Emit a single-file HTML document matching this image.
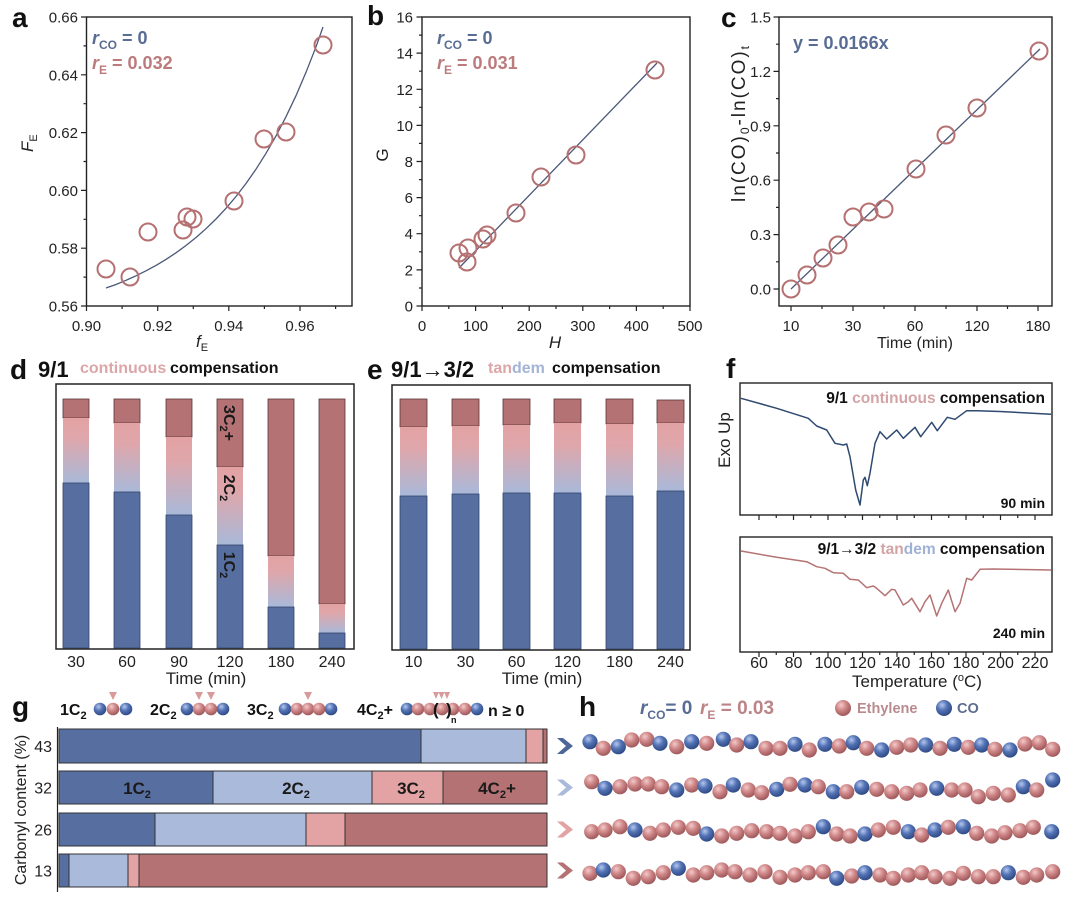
<!DOCTYPE html>
<html><head><meta charset="utf-8"><style>
html,body{margin:0;padding:0;background:#fff;}
svg{display:block;}
text{font-family:"Liberation Sans",Arial,sans-serif;}
</style></head><body>
<svg width="1073" height="904" viewBox="0 0 1073 904" xmlns="http://www.w3.org/2000/svg">
<defs>
<linearGradient id="g2" x1="0" y1="0" x2="0" y2="1">
 <stop offset="0" stop-color="#e3a2a4"/>
 <stop offset="0.3" stop-color="#dfa6aa"/>
 <stop offset="1" stop-color="#a9b9d9"/>
</linearGradient>
<radialGradient id="bp" cx="0.38" cy="0.32" r="0.72">
 <stop offset="0" stop-color="#f3caca"/>
 <stop offset="0.45" stop-color="#cf8788"/>
 <stop offset="1" stop-color="#9a5456"/>
</radialGradient>
<radialGradient id="bb" cx="0.38" cy="0.32" r="0.72">
 <stop offset="0" stop-color="#b5c7ee"/>
 <stop offset="0.45" stop-color="#5373b5"/>
 <stop offset="1" stop-color="#2c4680"/>
</radialGradient>
</defs>
<rect width="1073" height="904" fill="#fff"/>

<!-- ================= Panel a ================= -->
<text x="12" y="27" font-size="28" font-weight="bold" fill="#111">a</text>
<rect x="86.5" y="17" width="265.5" height="289" fill="none" stroke="#222" stroke-width="1.4"/>
<path d="M81 17H86.5M81 74.8H86.5M81 132.6H86.5M81 190.4H86.5M81 248.2H86.5M81 306H86.5M83.5 45.9H86.5M83.5 103.7H86.5M83.5 161.5H86.5M83.5 219.3H86.5M83.5 277.1H86.5M86.5 306V311M157.7 306V311M228.8 306V311M300 306V311M122.1 306V309M193.3 306V309M264.4 306V309M335.6 306V309" stroke="#222" stroke-width="1.2" fill="none"/>
<g font-size="15" fill="#222" text-anchor="end">
<text x="78" y="22.5">0.66</text><text x="78" y="80.3">0.64</text><text x="78" y="138.1">0.62</text><text x="78" y="195.9">0.60</text><text x="78" y="253.7">0.58</text><text x="78" y="311.5">0.56</text>
</g>
<g font-size="15" fill="#222" text-anchor="middle">
<text x="86.5" y="331">0.90</text><text x="157.7" y="331">0.92</text><text x="228.8" y="331">0.94</text><text x="300" y="331">0.96</text>
</g>
<text x="196" y="347" font-size="17" fill="#222" font-style="italic">f<tspan font-size="11" font-style="normal" dy="4">E</tspan></text>
<text transform="translate(33 152) rotate(-90)" font-size="17" fill="#222" font-style="italic">F<tspan font-size="11" font-style="normal" dy="4">E</tspan></text>
<polyline fill="none" stroke="#4a5878" stroke-width="1.3" points="106,288 116,284.5 126,280.3 136,275.8 146,270.8 156,265.4 166,259.4 176,252.8 186,245.5 196,237.5 206,228.7 216,219 226,208.3 236,196.5 246,183.5 256,169.2 266,153.3 276,136 286,116.7 296,95.7 306,72.3 316,46.8 323,27"/>
<g fill="none" stroke="#b57072" stroke-width="2">
<circle cx="106" cy="269" r="8.5"/><circle cx="130" cy="277" r="8.5"/><circle cx="148" cy="232" r="8.5"/><circle cx="183" cy="230" r="8.5"/><circle cx="187" cy="217" r="8.5"/><circle cx="193" cy="219" r="8.5"/><circle cx="234" cy="201" r="8.5"/><circle cx="264" cy="139" r="8.5"/><circle cx="286" cy="132" r="8.5"/><circle cx="323" cy="45" r="8.5"/>
</g>
<text x="92" y="44" font-size="18" font-weight="bold" fill="#586c94"><tspan font-style="italic">r</tspan><tspan font-size="12" dy="5">CO</tspan><tspan dy="-5"> = 0</tspan></text>
<text x="92" y="69" font-size="18" font-weight="bold" fill="#bb7b7d"><tspan font-style="italic">r</tspan><tspan font-size="12" dy="5">E</tspan><tspan dy="-5"> = 0.032</tspan></text>

<!-- ================= Panel b ================= -->
<text x="367" y="25" font-size="28" font-weight="bold" fill="#111">b</text>
<rect x="422" y="17" width="268" height="289" fill="none" stroke="#222" stroke-width="1.4"/>
<path d="M416.5 306H422M416.5 269.9H422M416.5 233.7H422M416.5 197.6H422M416.5 161.5H422M416.5 125.4H422M416.5 89.3H422M416.5 53.1H422M416.5 17H422M419 288H422M419 251.8H422M419 215.7H422M419 179.6H422M419 143.4H422M419 107.3H422M419 71.2H422M419 35.1H422M422 306V311M475.6 306V311M529.2 306V311M582.8 306V311M636.4 306V311M690 306V311M448.8 306V309M502.4 306V309M556 306V309M609.6 306V309M663.2 306V309" stroke="#222" stroke-width="1.2" fill="none"/>
<g font-size="15" fill="#222" text-anchor="end">
<text x="413" y="311.5">0</text><text x="413" y="275.4">2</text><text x="413" y="239.2">4</text><text x="413" y="203.1">6</text><text x="413" y="167">8</text><text x="413" y="130.9">10</text><text x="413" y="94.8">12</text><text x="413" y="58.6">14</text><text x="413" y="22.5">16</text>
</g>
<g font-size="15" fill="#222" text-anchor="middle">
<text x="422" y="331">0</text><text x="475.6" y="331">100</text><text x="529.2" y="331">200</text><text x="582.8" y="331">300</text><text x="636.4" y="331">400</text><text x="690" y="331">500</text>
</g>
<text x="555" y="348" font-size="17" fill="#222" font-style="italic" text-anchor="middle">H</text>
<text transform="translate(388 155) rotate(-90)" font-size="17" fill="#222" text-anchor="middle">G</text>
<line x1="459" y1="268" x2="657" y2="63" stroke="#4a5878" stroke-width="1.3"/>
<g fill="none" stroke="#b57072" stroke-width="2">
<circle cx="459" cy="253" r="8.5"/><circle cx="467" cy="262" r="8.5"/><circle cx="468" cy="248" r="8.5"/><circle cx="483" cy="239" r="8.5"/><circle cx="487" cy="235" r="8.5"/><circle cx="516" cy="213" r="8.5"/><circle cx="541" cy="177" r="8.5"/><circle cx="576" cy="155" r="8.5"/><circle cx="655" cy="70" r="8.5"/>
</g>
<text x="437" y="44" font-size="18" font-weight="bold" fill="#586c94"><tspan font-style="italic">r</tspan><tspan font-size="12" dy="5">CO</tspan><tspan dy="-5"> = 0</tspan></text>
<text x="437" y="69" font-size="18" font-weight="bold" fill="#bb7b7d"><tspan font-style="italic">r</tspan><tspan font-size="12" dy="5">E</tspan><tspan dy="-5"> = 0.031</tspan></text>

<!-- ================= Panel c ================= -->
<text x="721" y="27" font-size="28" font-weight="bold" fill="#111">c</text>
<rect x="779" y="17" width="273" height="289" fill="none" stroke="#222" stroke-width="1.4"/>
<path d="M773.5 289H779M773.5 234.6H779M773.5 180.2H779M773.5 125.8H779M773.5 71.4H779M773.5 17H779M776 261.8H779M776 207.4H779M776 153H779M776 98.6H779M776 44.2H779M791 306V311M853 306V311M915 306V311M977 306V311M1038 306V311M822 306V309M884 306V309M946 306V309M1007.5 306V309" stroke="#222" stroke-width="1.2" fill="none"/>
<g font-size="15" fill="#222" text-anchor="end">
<text x="771" y="294.5">0.0</text><text x="771" y="240.1">0.3</text><text x="771" y="185.7">0.6</text><text x="771" y="131.3">0.9</text><text x="771" y="76.9">1.2</text><text x="771" y="22.5">1.5</text>
</g>
<g font-size="15" fill="#222" text-anchor="middle">
<text x="791" y="331">10</text><text x="853" y="331">30</text><text x="915" y="331">60</text><text x="977" y="331">120</text><text x="1038" y="331">180</text>
</g>
<text x="915" y="348" font-size="16" fill="#222" text-anchor="middle">Time (min)</text>
<text transform="translate(745 202) rotate(-90)" font-size="19" fill="#222" textLength="156" lengthAdjust="spacing">ln(CO)<tspan font-size="12" dy="4">0</tspan><tspan dy="-4">-ln(CO)</tspan><tspan font-size="12" dy="4">t</tspan></text>
<line x1="791" y1="289" x2="1040" y2="49" stroke="#4a5878" stroke-width="1.3"/>
<g fill="none" stroke="#b57072" stroke-width="2">
<circle cx="791" cy="289" r="8.5"/><circle cx="807" cy="275" r="8.5"/><circle cx="823" cy="258" r="8.5"/><circle cx="838" cy="245" r="8.5"/><circle cx="853" cy="217" r="8.5"/><circle cx="869" cy="212" r="8.5"/><circle cx="884" cy="209" r="8.5"/><circle cx="916" cy="169" r="8.5"/><circle cx="946" cy="135" r="8.5"/><circle cx="977" cy="108" r="8.5"/><circle cx="1039" cy="51" r="8.5"/>
</g>
<text x="793" y="49" font-size="18" font-weight="bold" fill="#586c94">y = 0.0166x</text>

<!-- ================= Panel d ================= -->
<text x="10" y="379" font-size="28" font-weight="bold" fill="#111">d</text>
<text x="38" y="377" font-size="22" font-weight="bold" fill="#111">9/1</text>
<text x="80" y="373" font-size="16" font-weight="bold" fill="#dba6a8">continuous</text>
<text x="170" y="373" font-size="16" font-weight="bold" fill="#111">compensation</text>
<g stroke-width="0.8">
<rect x="63" y="399" width="26" height="19" fill="#b47274" stroke="#5a3535"/><rect x="63" y="418" width="26" height="65" fill="url(#g2)" stroke="none"/><rect x="63" y="483" width="26" height="165" fill="#576ea0" stroke="#34446a"/>
<rect x="114" y="399" width="26" height="24" fill="#b47274" stroke="#5a3535"/><rect x="114" y="423" width="26" height="69" fill="url(#g2)" stroke="none"/><rect x="114" y="492" width="26" height="156" fill="#576ea0" stroke="#34446a"/>
<rect x="166" y="399" width="26" height="38" fill="#b47274" stroke="#5a3535"/><rect x="166" y="437" width="26" height="78" fill="url(#g2)" stroke="none"/><rect x="166" y="515" width="26" height="133" fill="#576ea0" stroke="#34446a"/>
<rect x="217" y="399" width="26" height="68" fill="#b47274" stroke="#5a3535"/><rect x="217" y="467" width="26" height="78" fill="url(#g2)" stroke="none"/><rect x="217" y="545" width="26" height="103" fill="#576ea0" stroke="#34446a"/>
<rect x="268" y="399" width="26" height="157" fill="#b47274" stroke="#5a3535"/><rect x="268" y="556" width="26" height="51" fill="url(#g2)" stroke="none"/><rect x="268" y="607" width="26" height="41" fill="#576ea0" stroke="#34446a"/>
<rect x="319" y="399" width="26" height="205" fill="#b47274" stroke="#5a3535"/><rect x="319" y="604" width="26" height="29" fill="url(#g2)" stroke="none"/><rect x="319" y="633" width="26" height="15" fill="#576ea0" stroke="#34446a"/>
</g>
<g font-size="16" font-weight="bold" fill="#1a1a1a">
<text transform="translate(224 423) rotate(90)" text-anchor="middle">3C<tspan font-size="11" dy="4">2</tspan><tspan dy="-4">+</tspan></text>
<text transform="translate(224 488) rotate(90)" text-anchor="middle">2C<tspan font-size="11" dy="4">2</tspan></text>
<text transform="translate(224 565) rotate(90)" text-anchor="middle">1C<tspan font-size="11" dy="4">2</tspan></text>
</g>
<rect x="56" y="384" width="298" height="265" fill="none" stroke="#222" stroke-width="1.5"/>
<g font-size="16" fill="#222" text-anchor="middle">
<text x="76" y="667">30</text><text x="127" y="667">60</text><text x="179" y="667">90</text><text x="230" y="667">120</text><text x="281" y="667">180</text><text x="332" y="667">240</text>
<text x="206" y="684" font-size="17">Time (min)</text>
</g>

<!-- ================= Panel e ================= -->
<text x="367" y="379" font-size="28" font-weight="bold" fill="#111">e</text>
<text x="391" y="377" font-size="22" font-weight="bold" fill="#111">9/1→3/2</text>
<text x="488" y="373" font-size="16" font-weight="bold"><tspan fill="#dba6a8">tan</tspan><tspan fill="#a3b4d6">dem</tspan></text>
<text x="552" y="373" font-size="16" font-weight="bold" fill="#111">compensation</text>
<g stroke-width="0.8">
<rect x="400" y="399" width="27" height="28" fill="#b47274" stroke="#5a3535"/><rect x="400" y="427" width="27" height="69" fill="url(#g2)"/><rect x="400" y="496" width="27" height="153" fill="#576ea0" stroke="#34446a"/>
<rect x="452" y="399" width="27" height="27" fill="#b47274" stroke="#5a3535"/><rect x="452" y="426" width="27" height="68" fill="url(#g2)"/><rect x="452" y="494" width="27" height="155" fill="#576ea0" stroke="#34446a"/>
<rect x="503" y="399" width="27" height="26" fill="#b47274" stroke="#5a3535"/><rect x="503" y="425" width="27" height="68" fill="url(#g2)"/><rect x="503" y="493" width="27" height="156" fill="#576ea0" stroke="#34446a"/>
<rect x="554" y="399" width="27" height="24" fill="#b47274" stroke="#5a3535"/><rect x="554" y="423" width="27" height="70" fill="url(#g2)"/><rect x="554" y="493" width="27" height="156" fill="#576ea0" stroke="#34446a"/>
<rect x="606" y="399" width="27" height="25" fill="#b47274" stroke="#5a3535"/><rect x="606" y="424" width="27" height="72" fill="url(#g2)"/><rect x="606" y="496" width="27" height="153" fill="#576ea0" stroke="#34446a"/>
<rect x="657" y="400" width="27" height="23" fill="#b47274" stroke="#5a3535"/><rect x="657" y="423" width="27" height="68" fill="url(#g2)"/><rect x="657" y="491" width="27" height="158" fill="#576ea0" stroke="#34446a"/>
</g>
<rect x="392" y="385" width="298" height="265" fill="none" stroke="#222" stroke-width="1.5"/>
<g font-size="16" fill="#222" text-anchor="middle">
<text x="413.5" y="667">10</text><text x="465.5" y="667">30</text><text x="516.5" y="667">60</text><text x="567.5" y="667">120</text><text x="619.5" y="667">180</text><text x="670.5" y="667">240</text>
<text x="542" y="684" font-size="17">Time (min)</text>
</g>

<!-- ================= Panel f ================= -->
<text x="726" y="378" font-size="28" font-weight="bold" fill="#111">f</text>
<rect x="740" y="383" width="312" height="132" fill="none" stroke="#222" stroke-width="1.4"/>
<rect x="740" y="537" width="312" height="115" fill="none" stroke="#222" stroke-width="1.4"/>
<path d="M759 515V520M793.5 515V520M828 515V520M862.5 515V520M897 515V520M931.5 515V520M966 515V520M1000.5 515V520M1035 515V520M776.25 515V518M810.75 515V518M845.25 515V518M879.75 515V518M914.25 515V518M948.75 515V518M983.25 515V518M1017.75 515V518M759 652V657M793.5 652V657M828 652V657M862.5 652V657M897 652V657M931.5 652V657M966 652V657M1000.5 652V657M1035 652V657M776.25 652V655M810.75 652V655M845.25 652V655M879.75 652V655M914.25 652V655M948.75 652V655M983.25 652V655M1017.75 652V655" stroke="#222" stroke-width="1.2" fill="none"/>
<g font-size="16" fill="#222" text-anchor="middle">
<text x="759" y="668">60</text><text x="793.5" y="668">80</text><text x="828" y="668">100</text><text x="862.5" y="668">120</text><text x="897" y="668">140</text><text x="931.5" y="668">160</text><text x="966" y="668">180</text><text x="1000.5" y="668">200</text><text x="1035" y="668">220</text>
<text x="917" y="687" font-size="17">Temperature (<tspan font-size="11" dy="-6">o</tspan><tspan dy="6">C)</tspan></text>
</g>
<text transform="translate(730 440) rotate(-90)" font-size="17" fill="#222" text-anchor="middle">Exo Up</text>
<polyline fill="none" stroke="#2f4a70" stroke-width="1.5" stroke-linejoin="round" points="741,398.3 776.7,408.3 808.3,418.3 816.7,426 826.7,430 835,443.3 843.3,445 846.7,444 850,456.7 855.7,490 860,505 863.3,480 865,477.3 867.3,485.7 870,473.3 875,443.3 880,431.7 886.7,439 896.7,430 903.3,438.3 915,427.3 920.7,436.7 931.7,422.3 937.3,430.7 947.3,417.3 955,419.3 966.7,410.7 976.7,410.7 1000,411.5 1051,414.3"/>
<polyline fill="none" stroke="#b57374" stroke-width="1.5" stroke-linejoin="round" points="741,551 776.7,557.3 806.7,561.7 816.7,566.7 825,568.3 833.3,572.7 843.3,573.3 850,579.3 858.3,580 866.7,587.7 873.3,586 876.7,588.3 885,595.7 891.7,589.3 895,590 903.3,605 908.3,601.7 911.7,598.3 920,611.7 925,601.7 930,595 936.7,616 941.7,603.3 948.3,590 955,611.7 960,603.3 966.7,578.3 971.7,580 980,569.3 993.3,569 1051,570"/>
<text x="1045" y="403" font-size="15.5" font-weight="bold" text-anchor="end" fill="#111">9/1 <tspan fill="#d3a3a5">continuous</tspan> compensation</text>
<text x="1045" y="508" font-size="14" font-weight="bold" text-anchor="end" fill="#111">90 min</text>
<text x="1045" y="554" font-size="15.5" font-weight="bold" text-anchor="end" fill="#111">9/1→3/2 <tspan fill="#d3a3a5">tan</tspan><tspan fill="#9fb1d6">dem</tspan> compensation</text>
<text x="1045" y="638" font-size="14" font-weight="bold" text-anchor="end" fill="#111">240 min</text>

<!-- ================= Panel g ================= -->
<text x="12" y="716" font-size="28" font-weight="bold" fill="#111">g</text>
<g font-size="16" font-weight="bold" fill="#111">
<text x="60" y="715">1C<tspan font-size="11" dy="4">2</tspan></text>
<text x="150" y="715">2C<tspan font-size="11" dy="4">2</tspan></text>
<text x="247" y="715">3C<tspan font-size="11" dy="4">2</tspan></text>
<text x="357" y="715">4C<tspan font-size="11" dy="4">2</tspan><tspan dy="-4">+</tspan></text>
<text x="488" y="716">n ≥ 0</text>
</g>
<g fill="#d99a9c">
<polygon points="109,692 117,692 113,700"/>
<polygon points="195,692 203,692 199,700"/><polygon points="207,692 215,692 211,700"/>
<polygon points="304,692 312,692 308,700"/>
<polygon points="433,692 439,692 436,699"/><polygon points="438.5,692 444.5,692 441.5,699"/><polygon points="444,692 450,692 447,699"/>
</g>
<g>
<circle cx="100" cy="709" r="6.3" fill="url(#bb)"/><circle cx="126" cy="709" r="6.3" fill="url(#bb)"/><circle cx="113" cy="709" r="6.3" fill="url(#bp)"/>
<circle cx="187" cy="709" r="6.3" fill="url(#bb)"/><circle cx="223" cy="709" r="6.3" fill="url(#bb)"/><circle cx="199" cy="709" r="6.3" fill="url(#bp)"/><circle cx="211" cy="709" r="6.3" fill="url(#bp)"/>
<circle cx="285" cy="709" r="6.3" fill="url(#bb)"/><circle cx="331" cy="709" r="6.3" fill="url(#bb)"/><circle cx="297" cy="709" r="6.3" fill="url(#bp)"/><circle cx="308" cy="709" r="6.3" fill="url(#bp)"/><circle cx="319" cy="709" r="6.3" fill="url(#bp)"/>
<circle cx="407" cy="709" r="6.3" fill="url(#bb)"/><circle cx="477" cy="709" r="6.3" fill="url(#bb)"/><circle cx="418" cy="709" r="6.3" fill="url(#bp)"/><circle cx="430" cy="709" r="6.3" fill="url(#bp)"/><circle cx="453" cy="709" r="6.3" fill="url(#bp)"/><circle cx="465" cy="709" r="6.3" fill="url(#bp)"/><circle cx="442" cy="709" r="6.3" fill="url(#bp)"/>
</g>
<text x="433" y="715" font-size="17" font-weight="bold" fill="#111">(</text>
<text x="446" y="715" font-size="17" font-weight="bold" fill="#111">)</text>
<text x="451" y="723" font-size="9" font-weight="bold" fill="#111">n</text>
<line x1="57.5" y1="727" x2="57.5" y2="892" stroke="#222" stroke-width="1.2"/>
<g stroke="#333" stroke-width="1">
<rect x="59" y="729" width="362" height="34" fill="#576ea0"/><rect x="421" y="729" width="105" height="34" fill="#a9badb"/><rect x="526" y="729" width="17" height="34" fill="#e3a2a3"/><rect x="543" y="729" width="4" height="34" fill="#b47274"/>
<rect x="59" y="771" width="154" height="33" fill="#576ea0"/><rect x="213" y="771" width="159" height="33" fill="#a9badb"/><rect x="372" y="771" width="71" height="33" fill="#e3a2a3"/><rect x="443" y="771" width="104" height="33" fill="#b47274"/>
<rect x="59" y="813" width="96" height="33" fill="#576ea0"/><rect x="155" y="813" width="151" height="33" fill="#a9badb"/><rect x="306" y="813" width="39" height="33" fill="#e3a2a3"/><rect x="345" y="813" width="202" height="33" fill="#b47274"/>
<rect x="59" y="854" width="10" height="33" fill="#576ea0"/><rect x="69" y="854" width="59" height="33" fill="#a9badb"/><rect x="128" y="854" width="11" height="33" fill="#e3a2a3"/><rect x="139" y="854" width="408" height="33" fill="#b47274"/>
</g>
<g font-size="17" font-weight="bold" fill="#1a1a1a" text-anchor="middle">
<text x="137" y="794">1C<tspan font-size="11" dy="4">2</tspan></text>
<text x="296" y="794">2C<tspan font-size="11" dy="4">2</tspan></text>
<text x="411" y="794">3C<tspan font-size="11" dy="4">2</tspan></text>
<text x="497" y="794">4C<tspan font-size="11" dy="4">2</tspan><tspan dy="-4">+</tspan></text>
</g>
<g font-size="16" fill="#222" text-anchor="end">
<text x="52" y="752">43</text><text x="52" y="793.5">32</text><text x="52" y="835.5">26</text><text x="52" y="876.5">13</text>
</g>
<text transform="translate(26 810) rotate(-90)" font-size="16" fill="#222" text-anchor="middle">Carbonyl content (%)</text>
<polygon points="557,738 563,738 573,746 563,754 557,754 566,746" fill="#4f6698"/>
<polygon points="557,779.5 563,779.5 573,787.5 563,795.5 557,795.5 566,787.5" fill="#a9badb"/>
<polygon points="557,821.5 563,821.5 573,829.5 563,837.5 557,837.5 566,829.5" fill="#e3a2a3"/>
<polygon points="557,862.5 563,862.5 573,870.5 563,878.5 557,878.5 566,870.5" fill="#b47274"/>

<!-- ================= Panel h ================= -->
<text x="579" y="716" font-size="28" font-weight="bold" fill="#111">h</text>
<text x="640" y="714" font-size="19" font-weight="bold" fill="#586c94"><tspan font-style="italic">r</tspan><tspan font-size="12" dy="5">CO</tspan><tspan dy="-5">= 0</tspan></text>
<text x="700" y="714" font-size="19" font-weight="bold" fill="#bb8486"><tspan font-style="italic">r</tspan><tspan font-size="12" dy="5">E</tspan><tspan dy="-5"> = 0.03</tspan></text>
<circle cx="843" cy="708" r="8" fill="url(#bp)"/>
<text x="857" y="713" font-size="14.5" font-weight="bold" fill="#b88a8e">Ethylene</text>
<circle cx="944" cy="708" r="8" fill="url(#bb)"/>
<text x="957" y="713" font-size="14.5" font-weight="bold" fill="#5d6c8f">CO</text>

<g>
<!-- row 1 -->
<circle cx="590" cy="741.7" r="7.6" fill="url(#bb)"/><circle cx="603.3" cy="748.3" r="7.6" fill="url(#bp)"/><circle cx="618.3" cy="746.7" r="7.6" fill="url(#bb)"/><circle cx="631.7" cy="740" r="7.6" fill="url(#bp)"/><circle cx="646.7" cy="739.3" r="7.6" fill="url(#bp)"/><circle cx="660" cy="743.3" r="7.6" fill="url(#bb)"/><circle cx="676.7" cy="746.7" r="7.6" fill="url(#bp)"/><circle cx="691.7" cy="741.7" r="7.6" fill="url(#bb)"/><circle cx="706.7" cy="743.3" r="7.6" fill="url(#bp)"/><circle cx="723.3" cy="739.3" r="7.6" fill="url(#bb)"/><circle cx="736.7" cy="745" r="7.6" fill="url(#bp)"/><circle cx="751" cy="741.7" r="7.6" fill="url(#bb)"/><circle cx="766" cy="748.3" r="7.6" fill="url(#bp)"/><circle cx="780" cy="748.3" r="7.6" fill="url(#bp)"/><circle cx="795" cy="744.3" r="7.6" fill="url(#bb)"/><circle cx="809.3" cy="750" r="7.6" fill="url(#bp)"/><circle cx="825" cy="744.3" r="7.6" fill="url(#bb)"/><circle cx="839.3" cy="746" r="7.6" fill="url(#bp)"/><circle cx="853.3" cy="742.7" r="7.6" fill="url(#bb)"/><circle cx="866.7" cy="748.3" r="7.6" fill="url(#bp)"/><circle cx="881.7" cy="750" r="7.6" fill="url(#bb)"/><circle cx="896.7" cy="747.3" r="7.6" fill="url(#bp)"/><circle cx="910.7" cy="745" r="7.6" fill="url(#bp)"/><circle cx="925.7" cy="745" r="7.6" fill="url(#bb)"/><circle cx="940" cy="748.3" r="7.6" fill="url(#bp)"/><circle cx="954.3" cy="744.3" r="7.6" fill="url(#bb)"/><circle cx="968.3" cy="747.3" r="7.6" fill="url(#bp)"/><circle cx="981.7" cy="745" r="7.6" fill="url(#bb)"/><circle cx="995" cy="749.3" r="7.6" fill="url(#bp)"/><circle cx="1010" cy="750" r="7.6" fill="url(#bb)"/><circle cx="1025" cy="744" r="7.6" fill="url(#bp)"/><circle cx="1039.3" cy="742.7" r="7.6" fill="url(#bp)"/><circle cx="1052.7" cy="749.3" r="7.6" fill="url(#bp)"/>
<!-- row 2 -->
<circle cx="591.7" cy="781.7" r="7.6" fill="url(#bp)"/><circle cx="605" cy="788.3" r="7.6" fill="url(#bb)"/><circle cx="620" cy="786.7" r="7.6" fill="url(#bp)"/><circle cx="635" cy="784" r="7.6" fill="url(#bp)"/><circle cx="648.3" cy="784" r="7.6" fill="url(#bp)"/><circle cx="661.7" cy="786.7" r="7.6" fill="url(#bp)"/><circle cx="676.7" cy="790" r="7.6" fill="url(#bb)"/><circle cx="691.7" cy="785" r="7.6" fill="url(#bp)"/><circle cx="705" cy="786" r="7.6" fill="url(#bb)"/><circle cx="720" cy="791.7" r="7.6" fill="url(#bp)"/><circle cx="733.3" cy="785" r="7.6" fill="url(#bb)"/><circle cx="748.3" cy="790" r="7.6" fill="url(#bp)"/><circle cx="761.7" cy="792.7" r="7.6" fill="url(#bp)"/><circle cx="776.7" cy="789.3" r="7.6" fill="url(#bb)"/><circle cx="790" cy="784.3" r="7.6" fill="url(#bp)"/><circle cx="805" cy="785" r="7.6" fill="url(#bb)"/><circle cx="818.3" cy="786.7" r="7.6" fill="url(#bp)"/><circle cx="833.3" cy="791.7" r="7.6" fill="url(#bb)"/><circle cx="846.7" cy="791.7" r="7.6" fill="url(#bp)"/><circle cx="861.7" cy="787.3" r="7.6" fill="url(#bb)"/><circle cx="876.7" cy="789.3" r="7.6" fill="url(#bp)"/><circle cx="891.7" cy="791.7" r="7.6" fill="url(#bp)"/><circle cx="906.7" cy="793.3" r="7.6" fill="url(#bp)"/><circle cx="920" cy="790" r="7.6" fill="url(#bp)"/><circle cx="936.7" cy="788.3" r="7.6" fill="url(#bb)"/><circle cx="951.7" cy="790" r="7.6" fill="url(#bp)"/><circle cx="965" cy="790" r="7.6" fill="url(#bp)"/><circle cx="978.3" cy="796.7" r="7.6" fill="url(#bp)"/><circle cx="993.3" cy="793.3" r="7.6" fill="url(#bp)"/><circle cx="1008.3" cy="795" r="7.6" fill="url(#bp)"/><circle cx="1023.3" cy="786.7" r="7.6" fill="url(#bb)"/><circle cx="1036.7" cy="790" r="7.6" fill="url(#bp)"/><circle cx="1052.7" cy="780" r="7.6" fill="url(#bb)"/>
<!-- row 3 -->
<circle cx="591.7" cy="831.7" r="7.6" fill="url(#bp)"/><circle cx="605" cy="830" r="7.6" fill="url(#bp)"/><circle cx="620" cy="826.7" r="7.6" fill="url(#bp)"/><circle cx="635" cy="830" r="7.6" fill="url(#bb)"/><circle cx="650" cy="833.3" r="7.6" fill="url(#bp)"/><circle cx="663.3" cy="830" r="7.6" fill="url(#bp)"/><circle cx="678.3" cy="827.3" r="7.6" fill="url(#bp)"/><circle cx="693.3" cy="828.3" r="7.6" fill="url(#bp)"/><circle cx="706.7" cy="834" r="7.6" fill="url(#bb)"/><circle cx="721.7" cy="836" r="7.6" fill="url(#bp)"/><circle cx="736.7" cy="833.3" r="7.6" fill="url(#bp)"/><circle cx="751.7" cy="830.7" r="7.6" fill="url(#bp)"/><circle cx="766.7" cy="831.7" r="7.6" fill="url(#bp)"/><circle cx="780" cy="833.3" r="7.6" fill="url(#bp)"/><circle cx="795" cy="836" r="7.6" fill="url(#bp)"/><circle cx="808.3" cy="831.7" r="7.6" fill="url(#bp)"/><circle cx="823.3" cy="826.7" r="7.6" fill="url(#bb)"/><circle cx="836.7" cy="834" r="7.6" fill="url(#bp)"/><circle cx="850" cy="836" r="7.6" fill="url(#bp)"/><circle cx="865" cy="834" r="7.6" fill="url(#bb)"/><circle cx="878.3" cy="830" r="7.6" fill="url(#bp)"/><circle cx="893.3" cy="827.3" r="7.6" fill="url(#bp)"/><circle cx="908.3" cy="831.7" r="7.6" fill="url(#bb)"/><circle cx="921.7" cy="835" r="7.6" fill="url(#bp)"/><circle cx="935" cy="830" r="7.6" fill="url(#bb)"/><circle cx="948.3" cy="827.3" r="7.6" fill="url(#bp)"/><circle cx="963.3" cy="826.7" r="7.6" fill="url(#bb)"/><circle cx="976.7" cy="833.3" r="7.6" fill="url(#bp)"/><circle cx="991.7" cy="836" r="7.6" fill="url(#bp)"/><circle cx="1005" cy="832.7" r="7.6" fill="url(#bp)"/><circle cx="1020" cy="830.7" r="7.6" fill="url(#bp)"/><circle cx="1033.3" cy="827.3" r="7.6" fill="url(#bp)"/><circle cx="1051.7" cy="831.7" r="7.6" fill="url(#bb)"/>
<!-- row 4 -->
<circle cx="590" cy="873.3" r="7.6" fill="url(#bp)"/><circle cx="603.3" cy="870" r="7.6" fill="url(#bb)"/><circle cx="618.3" cy="871.7" r="7.6" fill="url(#bp)"/><circle cx="633.3" cy="878.3" r="7.6" fill="url(#bp)"/><circle cx="648.3" cy="876.7" r="7.6" fill="url(#bp)"/><circle cx="663.3" cy="872.7" r="7.6" fill="url(#bp)"/><circle cx="678.3" cy="868.3" r="7.6" fill="url(#bb)"/><circle cx="693.3" cy="875" r="7.6" fill="url(#bp)"/><circle cx="706.7" cy="872.7" r="7.6" fill="url(#bp)"/><circle cx="721.7" cy="870" r="7.6" fill="url(#bp)"/><circle cx="735" cy="871.7" r="7.6" fill="url(#bp)"/><circle cx="750" cy="875" r="7.6" fill="url(#bp)"/><circle cx="765" cy="871.7" r="7.6" fill="url(#bp)"/><circle cx="780" cy="877.3" r="7.6" fill="url(#bp)"/><circle cx="795" cy="875" r="7.6" fill="url(#bp)"/><circle cx="808.3" cy="872.7" r="7.6" fill="url(#bp)"/><circle cx="823.3" cy="871.7" r="7.6" fill="url(#bp)"/><circle cx="836.7" cy="878.3" r="7.6" fill="url(#bb)"/><circle cx="851.7" cy="876" r="7.6" fill="url(#bp)"/><circle cx="865" cy="872.7" r="7.6" fill="url(#bb)"/><circle cx="880" cy="875" r="7.6" fill="url(#bp)"/><circle cx="893.3" cy="878.3" r="7.6" fill="url(#bp)"/><circle cx="908.3" cy="875" r="7.6" fill="url(#bp)"/><circle cx="921.7" cy="872.7" r="7.6" fill="url(#bp)"/><circle cx="935" cy="876.7" r="7.6" fill="url(#bp)"/><circle cx="950" cy="878.3" r="7.6" fill="url(#bp)"/><circle cx="963.3" cy="873.3" r="7.6" fill="url(#bp)"/><circle cx="978.3" cy="876.7" r="7.6" fill="url(#bp)"/><circle cx="993.3" cy="876.7" r="7.6" fill="url(#bp)"/><circle cx="1008.3" cy="872.7" r="7.6" fill="url(#bb)"/><circle cx="1023.3" cy="877.3" r="7.6" fill="url(#bp)"/><circle cx="1036.7" cy="875" r="7.6" fill="url(#bp)"/><circle cx="1052.7" cy="871.7" r="7.6" fill="url(#bp)"/>
</g>
</svg>
</body></html>
